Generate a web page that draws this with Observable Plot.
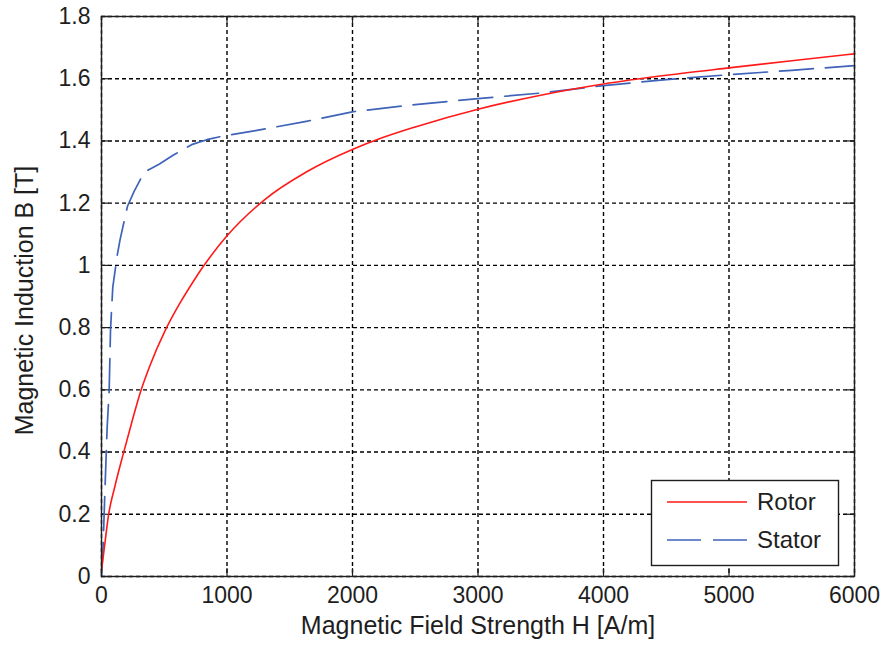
<!DOCTYPE html>
<html>
<head>
<meta charset="utf-8">
<script src="https://cdn.jsdelivr.net/npm/d3@7"></script>
<script src="https://cdn.jsdelivr.net/npm/@observablehq/plot@0.6"></script>
<style>
  html, body { margin: 0; padding: 0; background: #fff; }
  #wrap { position: relative; width: 883px; height: 652px; }
  #legend { position: absolute; left: 0; top: 0; pointer-events: none; }
</style>
</head>
<body>
<div id="wrap"></div>
<script>
// ---- data ----
const rotorH = [0, 25, 55, 107, 174, 241, 308, 388, 507, 627, 734, 812, 1000, 1296, 1632, 2008, 2236, 2500, 3000, 3500, 4000, 4500, 5000, 5500, 6000];
const rotorB = [0.02, 0.10, 0.195, 0.29, 0.395, 0.495, 0.59, 0.68, 0.79, 0.88, 0.95, 0.997, 1.095, 1.21, 1.30, 1.374, 1.410, 1.445, 1.502, 1.547, 1.583, 1.611, 1.635, 1.658, 1.680];

const statorH = [0, 13, 26, 45, 61, 72, 90, 126, 148, 207, 260, 341, 462, 570, 718, 839, 960, 1228, 1632, 2008, 2500, 3000, 3500, 4000, 4500, 5000, 5500, 6000];
const statorB = [0, 0.10, 0.26, 0.48, 0.595, 0.795, 0.93, 1.034, 1.083, 1.19, 1.238, 1.30, 1.326, 1.354, 1.388, 1.404, 1.415, 1.433, 1.463, 1.494, 1.517, 1.536, 1.554, 1.578, 1.597, 1.613, 1.627, 1.642];

const seriesNames = ["Rotor", "Stator"];
const xTicks = [0, 1000, 2000, 3000, 4000, 5000, 6000];
const yTicks = [0, 0.2, 0.4, 0.6, 0.8, 1, 1.2, 1.4, 1.6, 1.8];
const xLabel = "Magnetic Field Strength H [A/m]";
const yLabel = "Magnetic Induction B [T]";

// ---- build tables ----
const rotor = rotorH.map((h, i) => ({H: h, B: rotorB[i]}));
const stator = statorH.map((h, i) => ({H: h, B: statorB[i]}));

const W = 883, H = 652;
const mL = 101, mR = 29, mT = 16, mB = 76;
const plotW = W - mL - mR, plotH = H - mT - mB;
const tickLen = 8;
const red = "#ff1a1a", blue = "#3f63b8";
const fmt = d => String(+d.toFixed(1));

const chart = Plot.plot({
  width: W,
  height: H,
  marginLeft: mL,
  marginRight: mR,
  marginTop: mT,
  marginBottom: mB,
  style: {fontFamily: "'Liberation Sans', Arial, sans-serif", fontSize: "24px", color: "#1e1e1e", background: "#fff"},
  x: {domain: [0, 6000]},
  y: {domain: [0, 1.8]},
  marks: [
    Plot.gridX(xTicks, {stroke: "#000", strokeOpacity: 1, strokeWidth: 1.4, strokeDasharray: "4,3"}),
    Plot.gridY(yTicks, {stroke: "#000", strokeOpacity: 1, strokeWidth: 1.4, strokeDasharray: "4,3"}),
    // inward ticks on all four sides
    Plot.tickX(xTicks, {x: d => d, insetTop: plotH - tickLen, stroke: "#1e1e1e", strokeWidth: 1.2}),
    Plot.tickX(xTicks, {x: d => d, insetBottom: plotH - tickLen, stroke: "#1e1e1e", strokeWidth: 1.2}),
    Plot.tickY(yTicks, {y: d => d, insetRight: plotW - tickLen, stroke: "#1e1e1e", strokeWidth: 1.2}),
    Plot.tickY(yTicks, {y: d => d, insetLeft: plotW - tickLen, stroke: "#1e1e1e", strokeWidth: 1.2}),
    Plot.line(stator, {x: "H", y: "B", stroke: blue, strokeWidth: 1.7, strokeDasharray: "34,12"}),
    Plot.line(rotor, {x: "H", y: "B", stroke: red, strokeWidth: 1.6, curve: "monotone-x"}),
    Plot.frame({stroke: "#1e1e1e", strokeWidth: 1.4}),
    Plot.axisX(xTicks, {tickSize: 0, tickPadding: 10, tickFormat: fmt, label: null, fontSize: 23}),
    Plot.axisY(yTicks, {tickSize: 0, tickPadding: 11, tickFormat: fmt, label: null, fontSize: 23}),
    Plot.text([xLabel], {text: d => d, frameAnchor: "bottom", textAnchor: "middle", dy: 57, fontSize: 25, fill: "#1e1e1e"}),
    Plot.text([yLabel], {text: d => d, frameAnchor: "left", textAnchor: "middle", rotate: -90, dx: -77, dy: 4, fontSize: 25, fill: "#1e1e1e"})
  ]
});

const wrap = document.getElementById("wrap");
wrap.appendChild(chart);

// ---- legend (inside the axes, lower right) ----
const ns = "http://www.w3.org/2000/svg";
const lg = document.createElementNS(ns, "svg");
lg.setAttribute("id", "legend");
lg.setAttribute("width", W);
lg.setAttribute("height", H);
const box = document.createElementNS(ns, "rect");
box.setAttribute("x", 651.5); box.setAttribute("y", 480.5);
box.setAttribute("width", 187); box.setAttribute("height", 85);
box.setAttribute("fill", "#fff"); box.setAttribute("stroke", "#1e1e1e"); box.setAttribute("stroke-width", 1.4);
lg.appendChild(box);
const styles = [{stroke: red, dash: null}, {stroke: blue, dash: "34,12"}];
seriesNames.forEach((name, i) => {
  const y = 502 + i * 38;
  const ln = document.createElementNS(ns, "line");
  ln.setAttribute("x1", 667); ln.setAttribute("x2", 747);
  ln.setAttribute("y1", y); ln.setAttribute("y2", y);
  ln.setAttribute("stroke", styles[i].stroke);
  ln.setAttribute("stroke-width", 1.6);
  if (styles[i].dash) ln.setAttribute("stroke-dasharray", styles[i].dash);
  lg.appendChild(ln);
  const t = document.createElementNS(ns, "text");
  t.setAttribute("x", 757); t.setAttribute("y", y);
  t.setAttribute("dy", "0.35em");
  t.setAttribute("font-family", "'Liberation Sans', Arial, sans-serif");
  t.setAttribute("font-size", 24);
  t.setAttribute("fill", "#1e1e1e");
  t.textContent = name;
  lg.appendChild(t);
});
wrap.appendChild(lg);
</script>
</body>
</html>
